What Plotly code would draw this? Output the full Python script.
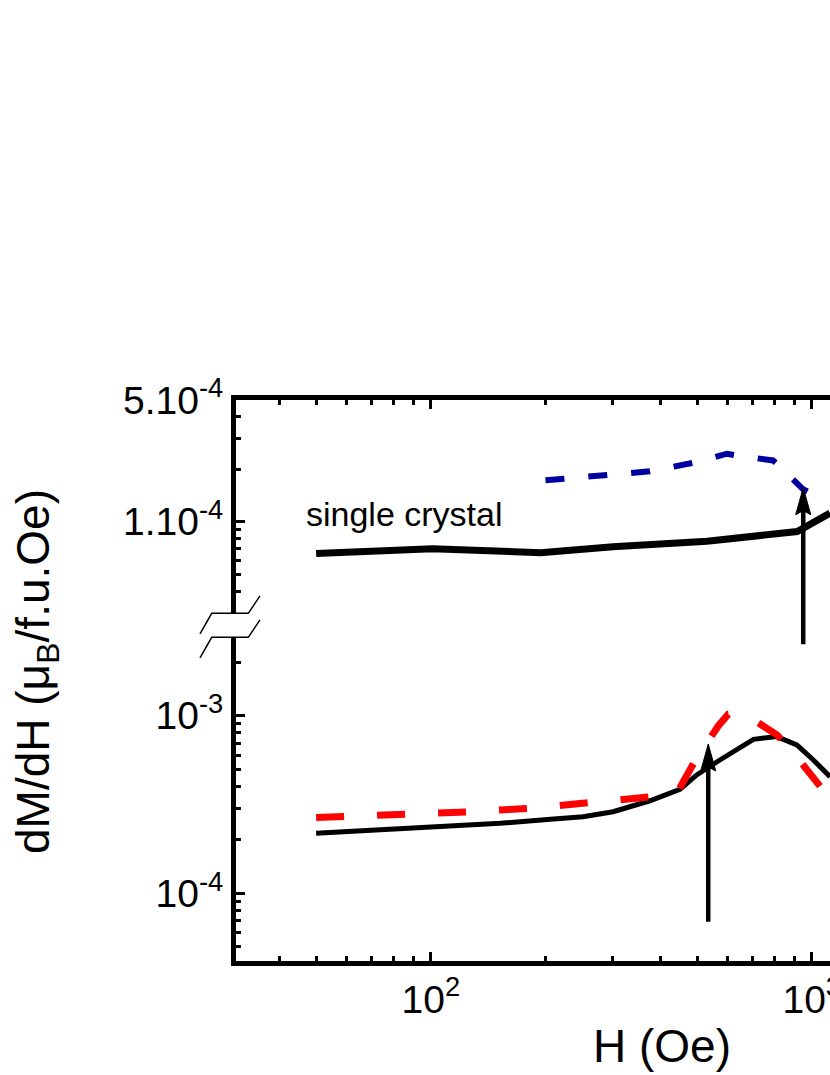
import numpy as np
import plotly.graph_objects as go

# ---------------- data ----------------
# top panel (single crystal)
H_sc = [50, 101, 194, 301, 531, 916, 1117]
dMdH_sc = [6.56e-5, 7.0e-5, 6.64e-5, 7.18e-5, 7.72e-5, 8.79e-5, 1.12e-4]

H_sc_dash = [200, 290, 376, 488, 564, 599, 637, 731, 791, 820, 948, 1069]
dMdH_sc_dash = [1.73e-4, 1.85e-4, 1.95e-4, 2.18e-4, 2.40e-4, 2.46e-4, 2.40e-4,
                2.29e-4, 2.25e-4, 2.10e-4, 1.54e-4, 1.34e-4]

# bottom panel
H_poly = [50, 102, 152, 206, 251, 301, 376, 451, 499, 574, 703, 809, 914, 1010, 1117]
dMdH_poly = [2.18e-4, 2.36e-4, 2.48e-4, 2.61e-4, 2.70e-4, 2.88e-4, 3.32e-4, 3.85e-4,
             4.64e-4, 5.63e-4, 7.36e-4, 7.63e-4, 6.84e-4, 5.63e-4, 4.54e-4]

H_poly_dash = [50, 86, 124, 181, 262, 380, 448, 494, 569, 604, 658, 812, 931, 1106]
dMdH_poly_dash = [2.67e-4, 2.77e-4, 2.87e-4, 3.01e-4, 3.21e-4, 3.50e-4, 3.84e-4,
                  5.58e-4, 8.78e-4, 1.02e-3, 1.04e-3, 7.78e-4, 5.56e-4, 3.50e-4]

# arrows (field, tip value, tail value) for top and bottom panel
arrow_H = [950, 535]
arrow_tip = [1.57e-4, 6.93e-4]
arrow_tail = [1.94e-5, 6.78e-5]

# tick labels
x_tickvals = [100, 1000]
x_ticktext = ["10<sup>2</sup>", "10<sup>3</sup>"]
x_minor = [40, 50, 60, 70, 80, 90, 200, 300, 400, 500, 600, 700, 800, 900, 2000]
ytop_tickvals = [1e-4, 5e-4]
ytop_ticktext = ["1.10<sup>-4</sup>", "5.10<sup>-4</sup>"]
ytop_minor = [3e-5, 4e-5, 5e-5, 6e-5, 7e-5, 8e-5, 9e-5, 2e-4, 3e-4, 4e-4]
ybot_tickvals = [1e-4, 1e-3]
ybot_ticktext = ["10<sup>-4</sup>", "10<sup>-3</sup>"]
ybot_minor = [5e-5, 6e-5, 7e-5, 8e-5, 9e-5, 2e-4, 3e-4, 4e-4, 5e-4, 6e-4, 7e-4,
              8e-4, 9e-4, 2e-3]

# ---------------- layout geometry ----------------
W, Hh = 830, 1075
L, R, T, B = 236, 0, 400, 114
pw = W - L - R
ph = Hh - T - B

def pxx(x):
    return (x - L) / pw

def pxy(y):
    return (Hh - B - y) / ph

FONT = "Liberation Sans, Arial, sans-serif"

fig = go.Figure()
fig.add_trace(go.Scatter(x=H_poly, y=dMdH_poly, mode="lines", xaxis="x", yaxis="y",
                         line=dict(color="black", width=5), showlegend=False))
fig.add_trace(go.Scatter(x=H_poly_dash, y=dMdH_poly_dash, mode="lines", xaxis="x", yaxis="y",
                         line=dict(color="#FF0000", width=7, dash="28px,33px"), showlegend=False))
fig.add_trace(go.Scatter(x=H_sc, y=dMdH_sc, mode="lines", xaxis="x2", yaxis="y2",
                         line=dict(color="black", width=7), showlegend=False))
fig.add_trace(go.Scatter(x=H_sc_dash, y=dMdH_sc_dash, mode="lines", xaxis="x2", yaxis="y2",
                         line=dict(color="#0000A0", width=6, dash="19px,24px"), showlegend=False))

tickfont = dict(family=FONT, size=39, color="black")
common_x = dict(type="log", range=[1.4886, 3.048], showline=True, linewidth=5, linecolor="black",
                ticks="inside", ticklen=9, tickwidth=3, tickcolor="black",
                showgrid=False, zeroline=False, automargin=False, ticklabeloverflow="allow",
                minor=dict(tickmode="array", tickvals=x_minor, ticks="inside",
                           ticklen=5, tickwidth=3, tickcolor="black", showgrid=False))
common_y = dict(type="log", showline=True, linewidth=5, linecolor="black",
                ticks="inside", ticklen=9, tickwidth=3, tickcolor="black",
                showgrid=False, zeroline=False, automargin=False, tickfont=tickfont,
                tickmode="array", ticklabeloverflow="allow")

fig.update_layout(
    width=W, height=Hh,
    margin=dict(l=L, r=R, t=T, b=B, pad=0),
    paper_bgcolor="white", plot_bgcolor="white",
    xaxis=dict(common_x, anchor="y", tickmode="array", tickvals=x_tickvals,
               ticktext=x_ticktext, tickfont=tickfont),
    xaxis2=dict(common_x, anchor="y2", side="top", matches="x", showticklabels=False,
                tickmode="array", tickvals=x_tickvals),
    yaxis=dict(common_y, domain=[0, (Hh - B - 637.3) / ph], range=[-4.381, -2.5586],
               anchor="x", tickvals=ybot_tickvals, ticktext=ybot_ticktext,
               minor=dict(tickmode="array", tickvals=ybot_minor, ticks="inside",
                          ticklen=5, tickwidth=3, tickcolor="black", showgrid=False)),
    yaxis2=dict(common_y, domain=[(Hh - B - 613.3) / ph, 1], range=[-4.526, -3.3005],
                anchor="x2", tickvals=ytop_tickvals, ticktext=ytop_ticktext,
                minor=dict(tickmode="array", tickvals=ytop_minor, ticks="inside",
                           ticklen=5, tickwidth=3, tickcolor="black", showgrid=False)),
)

# arrows: shafts as annotations (log units), heads as pixel-sized shapes (data units)
for i, (xa, ya) in enumerate([("x2", "y2"), ("x", "y")]):
    hx = np.log10(arrow_H[i])
    fig.add_annotation(x=hx, y=np.log10(arrow_tip[i]), xref=xa, yref=ya,
                       ax=hx, ay=np.log10(arrow_tail[i]), axref=xa, ayref=ya,
                       text="", showarrow=True, arrowhead=0, arrowwidth=4.5,
                       arrowcolor="black", standoff=12, startstandoff=0)
    fig.add_shape(type="path", xref=xa, yref=ya, xsizemode="pixel", ysizemode="pixel",
                  xanchor=arrow_H[i], yanchor=arrow_tip[i],
                  path="M0,0 L-7.5,-27 L0,-23 L7.5,-27 Z",
                  fillcolor="black", line=dict(color="black", width=1), layer="above")

# axis break marks
fig.add_shape(type="rect", xref="paper", yref="paper",
              x0=pxx(213), x1=pxx(247), y0=pxy(636), y1=pxy(614.5),
              fillcolor="white", line=dict(width=0), layer="above")
for yy in (613.3, 637.3):
    fig.add_shape(type="path", xref="paper", yref="paper",
                  path=("M{:.5f},{:.5f} L{:.5f},{:.5f} L{:.5f},{:.5f} L{:.5f},{:.5f}".format(
                      pxx(200), pxy(yy + 20.5), pxx(211.7), pxy(yy), pxx(248.3), pxy(yy),
                      pxx(260), pxy(yy - 17.5))),
                  line=dict(color="black", width=1.5), layer="above")

# texts
fig.add_annotation(x=pxx(304), y=pxy(514), xref="paper", yref="paper",
                   text="single crystal", showarrow=False, xanchor="left", yanchor="middle",
                   font=dict(family=FONT, size=34, color="black"))
fig.add_annotation(x=pxx(662), y=pxy(1046), xref="paper", yref="paper",
                   text="H (Oe)", showarrow=False, xanchor="center", yanchor="middle",
                   font=dict(family=FONT, size=46, color="black"))
fig.add_annotation(x=pxx(36), y=pxy(672), xref="paper", yref="paper",
                   text="dM/dH (\u03bc<sub>B</sub>/f.u.Oe)", showarrow=False, textangle=-90,
                   xanchor="center", yanchor="middle",
                   font=dict(family=FONT, size=46, color="black"))

fig.write_html("out.html", config={"displayModeBar": False},
               post_script="document.body.style.margin='0px';"
                           "document.documentElement.style.overflow='hidden';"
                           "document.body.style.overflow='hidden';")
